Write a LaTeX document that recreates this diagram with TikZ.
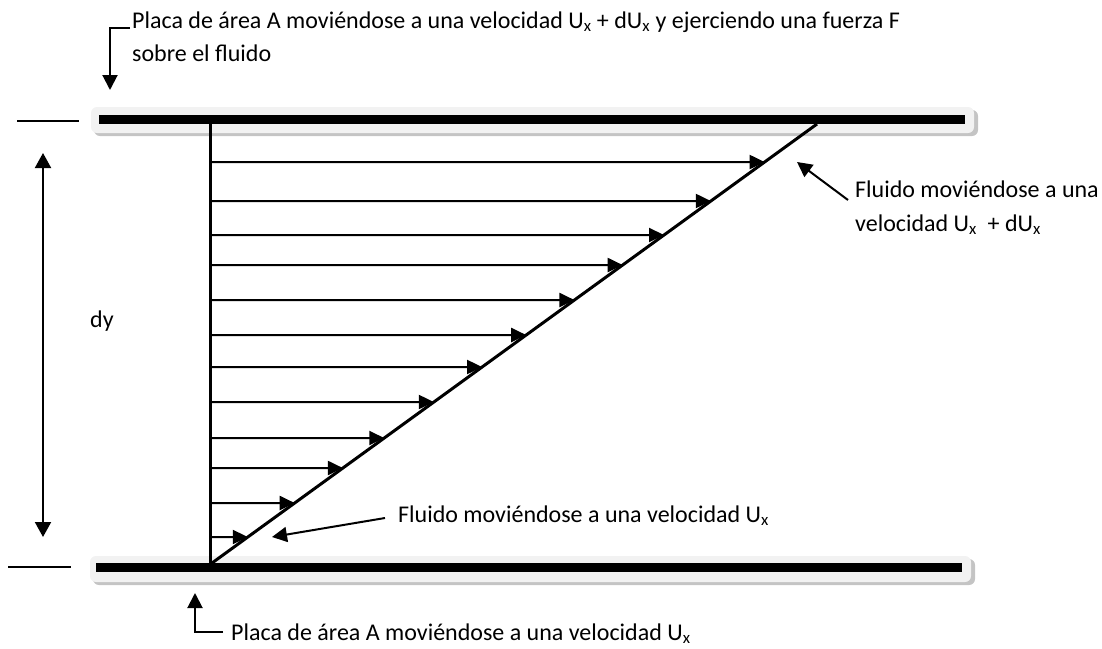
\documentclass[tikz,border=0pt]{standalone}
\usepackage{fontspec}
\setmainfont{Carlito}
\usetikzlibrary{arrows.meta,calc}
\definecolor{platelight}{HTML}{F2F2F2}
\definecolor{plateshadow}{HTML}{C4C4C4}
\begin{document}
\begin{tikzpicture}[x=1pt,y=-1pt,
  lbl/.style={font=\fontsize{24}{28}\selectfont, inner sep=0pt, anchor=base west},
  ldr/.style={line width=2pt,-{Triangle[length=15pt,width=15pt]}},
  vel/.style={line width=2pt,-{Triangle[length=15pt,width=14pt]}},
  dimarrow/.style={line width=2pt,{Triangle[length=15pt,width=16pt]}-{Triangle[length=15pt,width=16pt]}},
  tick/.style={line width=1.5pt},
  platebar/.style={fill=black},
  plateback/.style={fill=platelight, rounded corners=6pt},
  plateshade/.style={fill=plateshadow, rounded corners=6pt}]
\useasboundingbox (0,0) rectangle (1102,648);

% plates
\fill[plateshade] (94,110) rectangle (978,136);
\fill[plateback] (91,107) rectangle (974,133);
\fill[platebar] (99,115) rectangle (965,124);
\fill[plateshade] (93,559) rectangle (975,585);
\fill[plateback] (90,556) rectangle (971,582);
\fill[platebar] (96,563) rectangle (962,572);

% profile
\coordinate (v0) at (210,124);
\coordinate (v1) at (210,563);
\coordinate (d0) at (212,563);
\coordinate (d1) at (817,124);
\draw[line width=3pt] (v0) -- (v1);
\draw[line width=3pt] (d0) -- (d1);
\foreach \yy [count=\i] in {162,201,235,265,300,335,367,402,438,468,503,537}{
  \coordinate (vs\i) at (212,\yy);
  \coordinate (ve\i) at ($(d0)!{(563-\yy)/439}!(d1)$);
  \draw[vel] (vs\i) -- (ve\i);
}

% reference ticks and dimension
\coordinate (tka) at (17,121);
\coordinate (tkb) at (79,121);
\coordinate (tkc) at (8,567);
\coordinate (tkd) at (71,567);
\draw[tick] (tka) -- (tkb);
\draw[tick] (tkc) -- (tkd);
\coordinate (dimtop) at (43,153);
\coordinate (dimbot) at (43,537);
\draw[dimarrow] (dimtop) -- (dimbot);
\node[lbl] (dy) at (90,327) {dy};

% labels
\node[lbl] (t1) at (132,28) {Placa de área A moviéndose a una velocidad U\textsubscript{x} + dU\textsubscript{x} y ejerciendo una fuerza F};
\node[lbl] (t2) at (132,61) {sobre el fluido};
\node[lbl] (r1) at (855,197) {Fluido moviéndose a una};
\node[lbl] (r2) at (855,231) {velocidad U\textsubscript{x}\ \ + dU\textsubscript{x}};
\node[lbl] (b1) at (398,522) {Fluido moviéndose a una velocidad U\textsubscript{x}};
\node[lbl] (b2) at (231,640) {Placa de área A moviéndose a una velocidad U\textsubscript{x}};

% leaders
\coordinate (tl) at (110,90);
\draw[ldr] ($(t1.base west)+(-2,0)$) -| (tl);
\coordinate (bl) at (195,593);
\draw[ldr] ($(b2.base west)+(-8,-8)$) -| (bl);
\coordinate (rt) at (797,162);
\draw[ldr] ($(r1.base west)+(-7,3)$) -- (rt);
\coordinate (bt) at (272,537);
\draw[ldr] ($(b1.base west)+(-13,-4)$) -- (bt);
\end{tikzpicture}
\end{document}
